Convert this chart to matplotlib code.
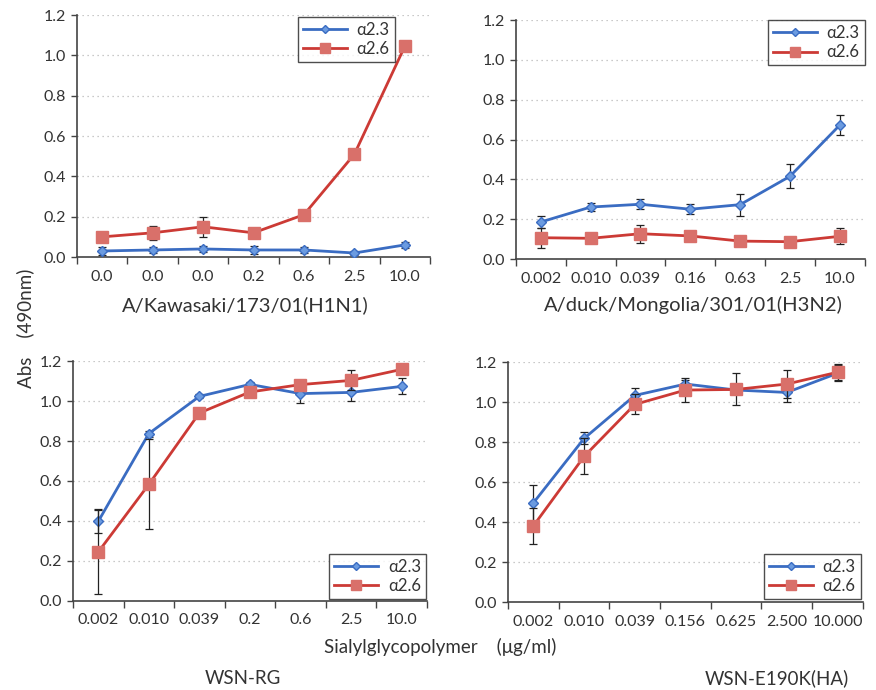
import matplotlib
matplotlib.use("Agg")
import matplotlib.pyplot as plt
from matplotlib.ticker import FixedLocator, NullFormatter, FixedFormatter

plt.rcParams['font.family'] = ['Lato', 'DejaVu Sans']

# ---- data ----
labels_kawasaki = ["0.0", "0.0", "0.0", "0.2", "0.6", "2.5", "10.0"]
kaw_a23 = [0.03, 0.035, 0.04, 0.035, 0.035, 0.02, 0.06]
kaw_a23_err = [0.02, 0.015, 0.015, 0.02, 0.015, 0.01, 0.015]
kaw_a26 = [0.10, 0.12, 0.15, 0.12, 0.21, 0.51, 1.045]
kaw_a26_err = [0.015, 0.035, 0.05, 0.015, 0.01, 0.02, 0.01]

labels_duck = ["0.002", "0.010", "0.039", "0.16", "0.63", "2.5", "10.0"]
duck_a23 = [0.186, 0.261, 0.275, 0.25, 0.273, 0.415, 0.672]
duck_a23_err = [0.03, 0.02, 0.025, 0.025, 0.055, 0.06, 0.05]
duck_a26 = [0.107, 0.104, 0.127, 0.116, 0.09, 0.087, 0.114]
duck_a26_err = [0.05, 0.015, 0.045, 0.015, 0.025, 0.01, 0.04]

labels_rg = ["0.002", "0.010", "0.039", "0.2", "0.6", "2.5", "10.0"]
rg_a23 = [0.398, 0.837, 1.023, 1.083, 1.037, 1.043, 1.073]
rg_a23_err = [0.06, 0.015, 0.01, 0.01, 0.045, 0.045, 0.04]
rg_a26 = [0.245, 0.583, 0.94, 1.045, 1.082, 1.103, 1.158]
rg_a26_err = [0.21, 0.225, 0.01, 0.01, 0.01, 0.05, 0.02]

labels_e190k = ["0.002", "0.010", "0.039", "0.156", "0.625", "2.500", "10.000"]
e_a23 = [0.496, 0.818, 1.033, 1.09, 1.06, 1.048, 1.144]
e_a23_err = [0.09, 0.03, 0.035, 0.02, 0.02, 0.05, 0.04]
e_a26 = [0.381, 0.728, 0.988, 1.06, 1.063, 1.09, 1.149]
e_a26_err = [0.09, 0.09, 0.05, 0.06, 0.08, 0.07, 0.04]

series_names = ["\u03b12.3", "\u03b12.6"]

BLUE = "#3a6cc2"
BLUE_M = "#6b9be0"
RED = "#cc3a35"
RED_M = "#d9706a"

fig = plt.figure(figsize=(8.76, 6.90), dpi=100)

panels = [
    ([0.0879, 0.6275, 0.403, 0.3507], labels_kawasaki, kaw_a23, kaw_a23_err, kaw_a26, kaw_a26_err,
     dict(loc="upper right", bbox_to_anchor=(0.90, 0.992))),
    ([0.589, 0.6246, 0.398, 0.3464], labels_duck, duck_a23, duck_a23_err, duck_a26, duck_a26_err,
     dict(loc="upper right", bbox_to_anchor=(1.0, 1.0))),
    ([0.0833, 0.129, 0.404, 0.3478], labels_rg, rg_a23, rg_a23_err, rg_a26, rg_a26_err,
     dict(loc="lower right", bbox_to_anchor=(0.997, 0.008))),
    ([0.580, 0.1275, 0.405, 0.3478], labels_e190k, e_a23, e_a23_err, e_a26, e_a26_err,
     dict(loc="lower right", bbox_to_anchor=(0.994, 0.012))),
]

for rect, labs, a23, a23e, a26, a26e, legkw in panels:
    ax = fig.add_axes(rect)
    x = list(range(len(labs)))
    c1 = ax.errorbar(x, a23, yerr=a23e, color=BLUE, lw=2.0, marker="D", ms=5,
                     mfc=BLUE_M, mec=BLUE, ecolor="#222222", elinewidth=0.9, capsize=3,
                     capthick=0.9, zorder=3)
    c2 = ax.errorbar(x, a26, yerr=a26e, color=RED, lw=2.0, marker="s", ms=9,
                     mfc=RED_M, mec=RED_M, ecolor="#222222", elinewidth=0.9, capsize=3,
                     capthick=0.9, zorder=4)
    ax.set_xlim(-0.5, len(labs) - 0.5)
    ax.set_ylim(0, 1.2)
    ax.set_yticks([0.0, 0.2, 0.4, 0.6, 0.8, 1.0, 1.2])
    ax.set_yticklabels(["0.0", "0.2", "0.4", "0.6", "0.8", "1.0", "1.2"])
    ax.xaxis.set_major_locator(FixedLocator([i - 0.5 for i in range(len(labs) + 1)]))
    ax.xaxis.set_major_formatter(NullFormatter())
    ax.xaxis.set_minor_locator(FixedLocator(x))
    ax.xaxis.set_minor_formatter(FixedFormatter(labs))
    ax.tick_params(axis="x", which="major", direction="out", length=5, width=1, color="#444444")
    ax.tick_params(axis="x", which="minor", length=0, pad=9, labelsize=11.5, labelcolor="#333333")
    ax.tick_params(axis="y", direction="out", length=4, width=1, color="#444444",
                   labelsize=11.5, labelcolor="#333333", pad=4)
    for s in ["top", "right"]:
        ax.spines[s].set_visible(False)
    for s in ["left", "bottom"]:
        ax.spines[s].set_color("#444444")
        ax.spines[s].set_linewidth(1.2)
    ax.grid(axis="y", linestyle=(0, (1, 3)), color="#b8b8b8", lw=0.9)
    ax.set_axisbelow(True)
    leg = ax.legend([c1[0], c2[0]], series_names, fontsize=12, frameon=True, fancybox=False,
                    handlelength=2.6, handletextpad=0.6, borderpad=0.3, labelspacing=0.2,
                    borderaxespad=0, markerscale=0.75, **legkw)
    leg.get_frame().set_edgecolor("#222222")
    leg.get_frame().set_linewidth(1.0)
    for t in leg.get_texts():
        t.set_color("#333333")

fig.text(245 / 876, 1 - 305 / 690, "A/Kawasaki/173/01(H1N1)", ha="center", va="center",
         fontsize=14.5, color="#333333")
fig.text(693 / 876, 1 - 305 / 690, "A/duck/Mongolia/301/01(H3N2)", ha="center", va="center",
         fontsize=14.5, color="#333333")
fig.text(25 / 876, 1 - 328 / 690, "Abs    (490nm)", ha="center", va="center", rotation=90,
         fontsize=13.5, color="#333333")
fig.text(440 / 876, 1 - 647 / 690, "Sialylglycopolymer    (\u03bcg/ml)", ha="center", va="center",
         fontsize=13.5, color="#333333")
fig.text(243 / 876, 1 - 678 / 690, "WSN-RG", ha="center", va="center",
         fontsize=13.5, color="#333333")
fig.text(777 / 876, 1 - 678 / 690, "WSN-E190K(HA)", ha="center", va="center",
         fontsize=13.5, color="#333333")

fig.savefig("out.png", dpi=100, facecolor="white")
